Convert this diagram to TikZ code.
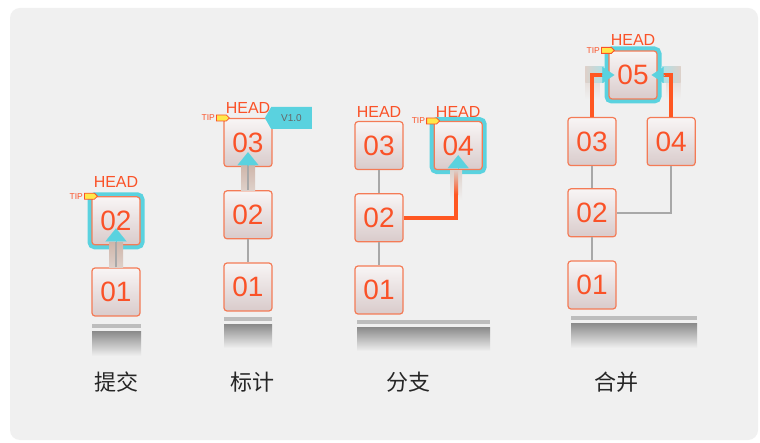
\documentclass[tikz,border=0pt]{standalone}
\usepackage{fontspec}
\setmainfont{Liberation Sans}
\newfontfamily\cjk{Noto Sans CJK SC}
\usetikzlibrary{arrows.meta, positioning, shapes.symbols}

\definecolor{panel}{HTML}{F0F0F0}
\definecolor{boxline}{HTML}{F47B56}
\definecolor{boxtext}{HTML}{FA5228}
\definecolor{boxtop}{HTML}{F8F5F5}
\definecolor{boxbottom}{HTML}{D9CBCB}
\definecolor{tipcyan}{HTML}{5AD2DF}
\definecolor{linkgrey}{HTML}{A8A8A8}
\definecolor{branchred}{HTML}{FF5722}
\definecolor{shaftbrown}{HTML}{CFB6AA}
\definecolor{tagyellow}{HTML}{FFE84A}
\definecolor{bargrey}{HTML}{BDBDBD}
\definecolor{barshade}{HTML}{8E8E8E}

\begin{document}
\begin{tikzpicture}[x=1pt, y=-1pt,
  commit/.style={draw=boxline, line width=1.2pt, rounded corners=3pt,
    top color=boxtop, bottom color=boxbottom, text=boxtext,
    minimum width=48pt, minimum height=48pt, inner sep=0pt,
    font=\fontsize{28}{28}\selectfont},
  headcommit/.style={commit, preaction={draw=tipcyan, line width=9pt}},
  headlbl/.style={text=boxtext, inner sep=0pt, font=\fontsize{16}{16}\selectfont},
  tiplbl/.style={text=boxtext, inner sep=0pt, font=\fontsize{8.5}{8.5}\selectfont},
  tiptag/.style={signal, signal to=east, draw=boxtext, fill=tagyellow,
    line width=0.8pt, minimum width=13pt, minimum height=6pt, inner sep=0pt},
  verlbl/.style={signal, signal to=west, signal pointer angle=120, fill=tipcyan,
    text=black!60, minimum width=47pt, minimum height=22pt, inner sep=0pt,
    font=\fontsize{10}{10}\selectfont},
  link/.style={draw=linkgrey, line width=2pt},
  merge/.style={draw=branchred, line width=4pt},
  shaft/.style={top color=shaftbrown, bottom color=shaftbrown!55!panel},
  halo/.style={top color=shaftbrown!55!panel, bottom color=panel},
  fade/.style={top color=shaftbrown!60!panel, bottom color=branchred},
  upshaft/.style={draw=linkgrey, line width=1.5pt},
  cyanhead/.style={-{Triangle[width=21pt,length=13pt]}, draw=tipcyan, line width=0.1pt},
  sidehead/.style={-{Triangle[width=16pt,length=12pt]}, draw=tipcyan, line width=0.1pt},
  barline/.style={draw=bargrey, line width=4pt},
  caption/.style={text=black!85, font=\cjk\fontsize{22}{22}\selectfont}]

  \useasboundingbox (0,0) rectangle (760,443);
  \fill[white] (0,0) rectangle (760,443);
  \fill[panel, rounded corners=10pt] (10,8) rectangle (758,440);

  % commit
  \node[commit] (a1) at (116,292) {01};
  \node[headcommit, above=22pt of a1] (a2) {02};
  \node[headlbl, above=8pt of a2] (a2head) {HEAD};
  \node[tiptag] (a2tag) at ([xshift=-2pt]a2.north west) {};
  \node[tiplbl, left=1pt of a2tag] (a2tip) {TIP};
  \shade[shaft] ([xshift=-7pt,yshift=3pt]a2.south) rectangle ([xshift=7pt]a1.north);
  \draw[upshaft] (a1.north) -- ([yshift=3pt]a2.south);
  \draw[cyanhead] ([yshift=3pt]a2.south) -- ([yshift=17pt]a2.south);
  \draw[barline] (92,326) -- (141,326);
  \shade[top color=barshade, bottom color=panel] (92,332) rectangle (141,356);
  \node[caption] (cap1) at (116,382) {提交};

  % tag
  \node[commit] (b1) at (248,287) {01};
  \node[commit, above=23pt of b1] (b2) {02};
  \node[commit, above=23pt of b2] (b3) {03};
  \node[headlbl, above=4pt of b3] (b3head) {HEAD};
  \node[tiptag] (b3tag) at ([xshift=-2pt]b3.north west) {};
  \node[tiplbl, left=1pt of b3tag] (b3tip) {TIP};
  \node[verlbl, anchor=west] (b3ver) at ([xshift=-8pt]b3.north east) {V1.0};
  \draw[link] (b1) -- (b2);
  \shade[shaft] ([xshift=-7pt,yshift=2pt]b3.south) rectangle ([xshift=7pt]b2.north);
  \draw[upshaft] (b2.north) -- ([yshift=2pt]b3.south);
  \draw[cyanhead] ([yshift=2pt]b3.south) -- ([yshift=15pt]b3.south);
  \draw[barline] (224,319) -- (272,319);
  \shade[top color=barshade, bottom color=panel] (224,325) rectangle (272,348);
  \node[caption] (cap2) at (252,382) {标计};

  % branch
  \node[commit] (c1) at (379,290) {01};
  \node[commit, above=23pt of c1] (c2) {02};
  \node[commit, above=23pt of c2] (c3) {03};
  \node[headcommit, right=30pt of c3] (c4) {04};
  \node[headlbl, above=3pt of c3] (c3head) {HEAD};
  \node[headlbl, above=3pt of c4] (c4head) {HEAD};
  \node[tiptag] (c4tag) at ([xshift=-2pt]c4.north west) {};
  \node[tiplbl, left=1pt of c4tag] (c4tip) {TIP};
  \coordinate (c4fade) at ([xshift=-2pt,yshift=-24pt]c4.south);
  \draw[link] (c1) -- (c2);
  \draw[link] (c2) -- (c3);
  \shade[halo] ([xshift=-6pt,yshift=24pt]c4fade) rectangle ([xshift=6pt,yshift=-6pt]c4fade);
  \draw[merge] (c2.east) -| (c4fade);
  \shade[fade] ([xshift=-2pt,yshift=24pt]c4fade) rectangle ([xshift=2pt]c4fade);
  \draw[cyanhead] ([yshift=2pt]c4.south) -- ([yshift=15pt]c4.south);
  \draw[barline] (357,322) -- (490,322);
  \shade[top color=barshade, bottom color=panel] (357,328) rectangle (490,351);
  \node[caption] (cap3) at (408,382) {分支};

  % merge
  \node[commit] (d1) at (592,285) {01};
  \node[commit, above=23pt of d1] (d2) {02};
  \node[commit, above=22pt of d2] (d3) {03};
  \node[commit, right=30pt of d3] (d4) {04};
  \node[headcommit] (d5) at (633,75) {05};
  \node[headlbl, above=5pt of d5] (d5head) {HEAD};
  \node[tiptag] (d5tag) at ([xshift=-2pt]d5.north west) {};
  \node[tiplbl, left=1pt of d5tag] (d5tip) {TIP};
  \draw[link] (d1) -- (d2);
  \draw[link] (d2) -- (d3);
  \draw[link] (d2.east) -| (d4.south);
  % faded halo round the merge corners
  \shade[halo] ([xshift=-23pt,yshift=8pt]d5.west) rectangle ([xshift=-9pt,yshift=-24pt]d5.west);
  \shade[left color=shaftbrown!55!panel, right color=tipcyan!45!panel]
    ([xshift=-23pt,yshift=8pt]d5.west) rectangle ([xshift=-4pt,yshift=-8pt]d5.west);
  \shade[halo] ([xshift=23pt,yshift=8pt]d5.east) rectangle ([xshift=9pt,yshift=-24pt]d5.east);
  \shade[right color=shaftbrown!55!panel, left color=tipcyan!45!panel]
    ([xshift=23pt,yshift=8pt]d5.east) rectangle ([xshift=4pt,yshift=-8pt]d5.east);
  \draw[merge] (d3.north) |- ([xshift=-4pt]d5.west);
  \draw[merge] (d4.north) |- ([xshift=4pt]d5.east);
  \draw[sidehead] ([xshift=-6pt]d5.west) -- ([xshift=6pt]d5.west);
  \draw[sidehead] ([xshift=6pt]d5.east) -- ([xshift=-6pt]d5.east);
  \draw[barline] (571,318) -- (697,318);
  \shade[top color=barshade, bottom color=panel] (571,324) rectangle (697,348);
  \node[caption] (cap4) at (616,382) {合并};
\end{tikzpicture}
\end{document}
